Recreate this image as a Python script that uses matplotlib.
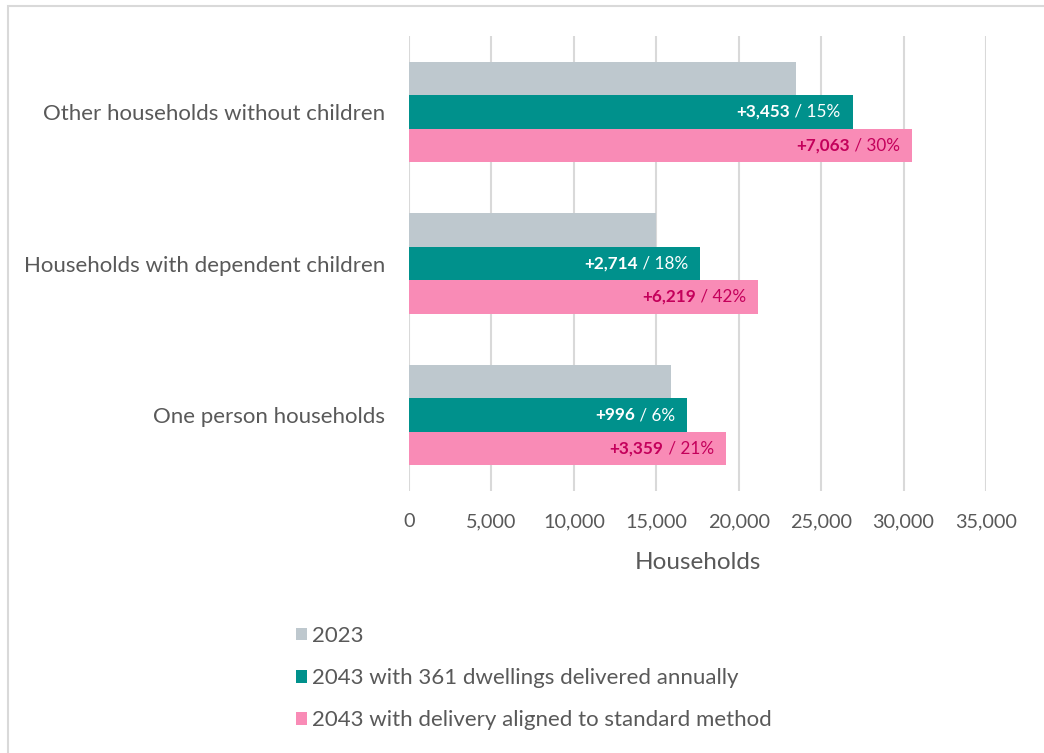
import numpy as np
import matplotlib.pyplot as plt
from matplotlib.patches import Rectangle

plt.rcParams['font.family'] = ['Lato', 'DejaVu Sans']

categories = ['One person households',
              'Households with dependent children',
              'Other households without children']
hh_2023 = [15880, 14960, 23470]
hh_2043_361 = [16880, 17670, 26920]
hh_2043_std = [19240, 21180, 30530]
gain_361 = ['+996', '+2,714', '+3,453']
pct_361 = ['6%', '18%', '15%']
gain_std = ['+3,359', '+6,219', '+7,063']
pct_std = ['21%', '42%', '30%']
legend_labels = ['2023',
                 '2043 with 361 dwellings delivered annually',
                 '2043 with delivery aligned to standard method']
xticks = np.arange(0, 35001, 5000)

grey = '#BEC8CE'
teal = '#00918C'
pink = '#F98BB6'
magenta = '#C4005B'
txt = '#595959'

fig = plt.figure(figsize=(10.44, 7.53), dpi=100)
ax = fig.add_axes([409 / 1044, 1 - 491 / 753, (986 - 409) / 1044, (491 - 36) / 753])

y = np.arange(len(categories))
h = 0.22
b1 = ax.barh(y + h, hh_2023, height=h, color=grey, label=legend_labels[0], zorder=3)
b2 = ax.barh(y, hh_2043_361, height=h, color=teal, label=legend_labels[1], zorder=3)
b3 = ax.barh(y - h, hh_2043_std, height=h, color=pink, label=legend_labels[2], zorder=3)

ax.set_xlim(0, 35000)
ax.set_ylim(-0.5, 2.5)
ax.set_xticks(xticks)
ax.set_xticklabels([f'{v:,}' for v in xticks])
ax.set_yticks(y)
ax.set_yticklabels(categories)
ax.tick_params(axis='both', length=0, colors=txt)
ax.tick_params(axis='y', pad=17, labelsize=16)
ax.tick_params(axis='x', pad=16, labelsize=14.3)
ax.set_xlabel('Households', fontsize=17.5, color=txt, labelpad=16)
ax.grid(axis='x', color='#D9D9D9', linewidth=1.5, zorder=0)
ax.set_axisbelow(True)
for s in ax.spines.values():
    s.set_visible(False)

# two-part labels: bold gain then " / pct"
fig.canvas.draw()
r = fig.canvas.get_renderer()
for vals, gains, pcts, col, yy in [(hh_2043_361, gain_361, pct_361, 'white', y),
                                    (hh_2043_std, gain_std, pct_std, magenta, y - h)]:
    for v, g, p, yc in zip(vals, gains, pcts, yy):
        t = ax.annotate(' / ' + p, (v, yc), xytext=(-9, 0), textcoords='offset points',
                        ha='right', va='center', fontsize=12.3, color=col, zorder=4)
        w = t.get_window_extent(r).width * 72 / fig.dpi
        ax.annotate(g, (v, yc), xytext=(-9 - w, 0), textcoords='offset points',
                    ha='right', va='center', fontsize=12.3, color=col, fontweight='bold', zorder=4)

leg = fig.legend(handles=[b1, b2, b3], loc='upper left', bbox_to_anchor=(276 / 1044, 1 - 606 / 753),
                 frameon=False, fontsize=16, handlelength=0.5, handleheight=0.5,
                 handletextpad=0.2, labelspacing=1.0)
for t in leg.get_texts():
    t.set_color(txt)

fig.patches.append(Rectangle((8 / 1044, -0.1), 1.2, 1.1 - 6 / 753, transform=fig.transFigure,
                             fill=False, edgecolor='#D9D9D9', linewidth=1.5))

fig.savefig('out.png', dpi=100)
